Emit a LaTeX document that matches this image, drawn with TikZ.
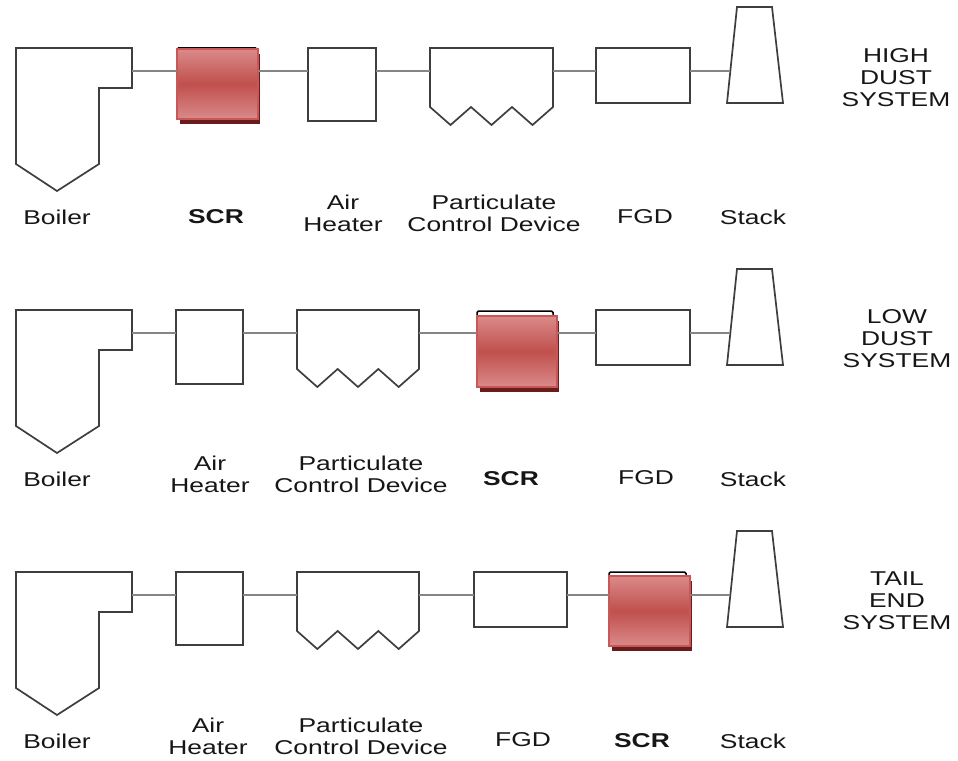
\documentclass[tikz,border=0pt]{standalone}
\usepackage{fontspec}
\setmainfont{Liberation Sans}[FakeStretch=1.32]
\usetikzlibrary{calc}
\definecolor{boxc}{HTML}{3E3E3E}
\definecolor{connc}{HTML}{858585}
\definecolor{txtc}{HTML}{161616}
\definecolor{scrlight}{HTML}{DA8A8A}
\definecolor{scrmid}{HTML}{C0504D}
\definecolor{scredge}{HTML}{C85858}
\definecolor{scrshadow}{HTML}{6A1C1C}
\tikzset{
  unit/.style={draw=boxc, line width=1.7pt, line join=miter},
  box/.style={unit, inner sep=0pt, outer sep=0pt, anchor=north west},
  ghost/.style={inner sep=0pt, outer sep=0pt, anchor=north west},
  conn/.style={draw=connc, line width=2.2pt},
  lbl/.style={font=\fontsize{20}{22}\selectfont, align=center, text=txtc, inner sep=0pt},
  scrlbl/.style={lbl, font=\fontsize{20}{22}\selectfont\bfseries},
}
% boiler: #1 suffix
\newcommand\BoilerUnit[1]{%
  \node[ghost, minimum width=116pt, minimum height=143pt] (boiler#1) at (16,48) {};
  \draw[unit] (16,48) -- (132,48) -- (132,88) -- (99,88) -- (99,164) -- (57,191) -- (16,164) -- cycle;
  \node[lbl] (lboiler#1) at (57,217) {Boiler};
}
% scr: #1 suffix, #2 x, #3 y, #4 w, #5 h, #6 outline top, #7 outline right, #8 label x
\newcommand\ScrUnit[8]{%
  \draw[black, line width=1.5pt, rounded corners=1.5pt] (#2,#3+45) -- (#2,#6) -- (#7,#6) -- (#7,#3+10);
  \node[ghost, minimum width=#4pt, minimum height=#5pt] (scr#1) at (#2,#3) {};
  \fill[scrshadow] ([shift={(3,5)}]scr#1.north west) rectangle ([shift={(2,5)}]scr#1.south east);
  \shade[top color=scrlight, bottom color=scrlight, middle color=scrmid] (scr#1.north west) rectangle (scr#1.south east);
  \draw[scredge, line width=1.5pt] (scr#1.north west) rectangle (scr#1.south east);
  \node[scrlbl] (lscr#1) at (#8,217) {SCR};
}
% pcd: #1 suffix, #2 x1, #3 x2
\newcommand\PcdUnit[3]{%
  \node[ghost, minimum width={#3-#2}, minimum height=78pt] (pcd#1) at (#2,48) {};
  \draw[unit] (#2,107) -- (#2,48) -- (#3,48) -- (#3,107)
    -- ({#2+5*(#3-#2)/6},125) -- ({#2+4*(#3-#2)/6},107)
    -- ({#2+3*(#3-#2)/6},125) -- ({#2+2*(#3-#2)/6},107)
    -- ({#2+(#3-#2)/6},125) -- cycle;
}
\newcommand\StackUnit[1]{%
  \draw[unit] (727,103) -- (737,7) -- (772,7) -- (783,103) -- cycle;
  \coordinate (stin#1) at (730.3,71);
  \node[lbl] (lstack#1) at (753,217) {Stack};
}
\begin{document}
\begin{tikzpicture}[x=1pt,y=-1pt]
\useasboundingbox (0,0) rectangle (958,760);

% ---------------- Row 1: high dust
\begin{scope}
  \coordinate (L1) at (0,71);
  \BoilerUnit{1}
  \ScrUnit{1}{177}{49}{81}{70}{48}{257}{216}
  \node[box, minimum width=68pt, minimum height=73pt] (ah1) at (308,48) {};
  \node[lbl] (lah1) at (343,213) {Air\\Heater};
  \PcdUnit{1}{430}{553}
  \node[lbl] (lpcd1) at (494,213) {Particulate\\Control Device};
  \node[box, minimum width=94pt, minimum height=55pt] (fgd1) at (596,48) {};
  \node[lbl] (lfgd1) at (645,217) {FGD};
  \StackUnit{1}
  \node[lbl] (sys1) at (896,77.5) {HIGH\\DUST\\SYSTEM};
  \draw[conn] (boiler1.east |- L1) -- (scr1.west |- L1);
  \draw[conn] (scr1.east |- L1) -- (ah1.west |- L1);
  \draw[conn] (ah1.east |- L1) -- (pcd1.west |- L1);
  \draw[conn] (pcd1.east |- L1) -- (fgd1.west |- L1);
  \draw[conn] (fgd1.east |- L1) -- (stin1);
\end{scope}

% ---------------- Row 2: low dust
\begin{scope}[shift={(0,262)}]
  \coordinate (L2) at (0,71);
  \BoilerUnit{2}
  \node[box, minimum width=67pt, minimum height=74pt] (ah2) at (176,48) {};
  \node[lbl] (lah2) at (210,212) {Air\\Heater};
  \PcdUnit{2}{297}{419}
  \node[lbl] (lpcd2) at (361,212) {Particulate\\Control Device};
  \ScrUnit{2}{477}{54}{80}{71}{49}{553}{511}
  \node[box, minimum width=94pt, minimum height=55pt] (fgd2) at (596,48) {};
  \node[lbl] (lfgd2) at (646,216) {FGD};
  \StackUnit{2}
  \node[lbl] (sys2) at (897,77) {LOW\\DUST\\SYSTEM};
  \draw[conn] (boiler2.east |- L2) -- (ah2.west |- L2);
  \draw[conn] (ah2.east |- L2) -- (pcd2.west |- L2);
  \draw[conn] (pcd2.east |- L2) -- (scr2.west |- L2);
  \draw[conn] (scr2.east |- L2) -- (fgd2.west |- L2);
  \draw[conn] (fgd2.east |- L2) -- (stin2);
\end{scope}

% ---------------- Row 3: tail end
\begin{scope}[shift={(0,524)}]
  \coordinate (L3) at (0,71);
  \BoilerUnit{3}
  \node[box, minimum width=67pt, minimum height=73pt] (ah3) at (176,48) {};
  \node[lbl] (lah3) at (208,212) {Air\\Heater};
  \PcdUnit{3}{297}{419}
  \node[lbl] (lpcd3) at (361,212) {Particulate\\Control Device};
  \node[box, minimum width=93pt, minimum height=55pt] (fgd3) at (474,48) {};
  \node[lbl] (lfgd3) at (523,216) {FGD};
  \ScrUnit{3}{609}{52}{81}{70}{48}{686}{642}
  \StackUnit{3}
  \node[lbl] (sys3) at (897,77) {TAIL\\END\\SYSTEM};
  \draw[conn] (boiler3.east |- L3) -- (ah3.west |- L3);
  \draw[conn] (ah3.east |- L3) -- (pcd3.west |- L3);
  \draw[conn] (pcd3.east |- L3) -- (fgd3.west |- L3);
  \draw[conn] (fgd3.east |- L3) -- (scr3.west |- L3);
  \draw[conn] (scr3.east |- L3) -- (stin3);
\end{scope}
\end{tikzpicture}
\end{document}
